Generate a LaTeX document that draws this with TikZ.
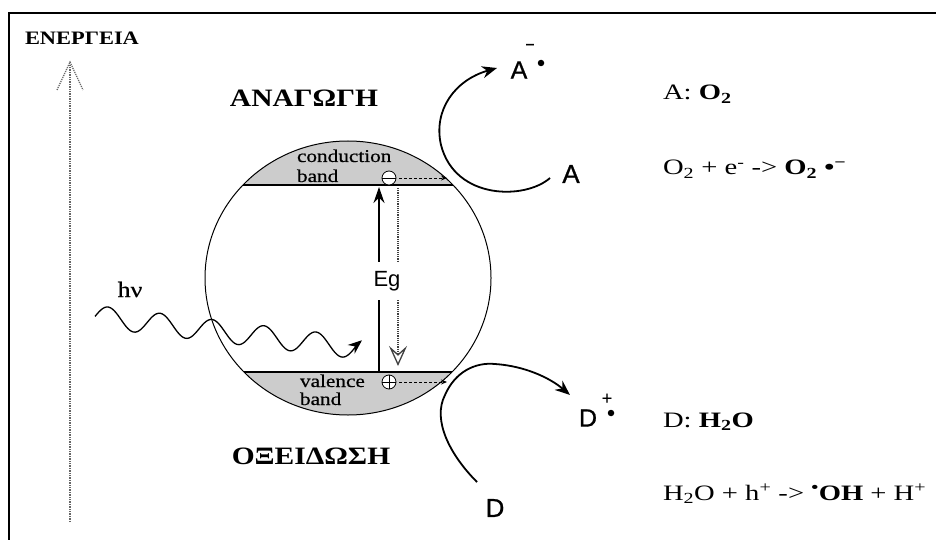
\documentclass[tikz,border=0pt]{standalone}
\usepackage{fontspec}
\setmainfont{Liberation Serif}
\newfontfamily\rtext[FakeStretch=1.3]{Liberation Serif}
\newfontfamily\grtext[FakeStretch=1.18]{Liberation Serif}
\newfontfamily\bandtext[FakeStretch=1.18,FakeBold=0.6]{Liberation Serif}
\newfontfamily\lbl[FakeBold=0.8]{Liberation Sans}
\newfontfamily\lbllight{Liberation Sans}
\usetikzlibrary{arrows.meta,shapes.geometric}
\begin{document}
\begin{tikzpicture}[x=1pt,y=-1pt,
  every node/.style={inner sep=0pt, outer sep=0pt},
  greek/.style={font=\grtext\bfseries\fontsize{25}{25}\selectfont, anchor=base},
  eqn/.style={font=\rtext\fontsize{22}{22}\selectfont, anchor=base west},
  bandlbl/.style={font=\bandtext\fontsize{18}{19}\selectfont, anchor=base west},
  species/.style={font=\lbl\fontsize{26}{26}\selectfont},
  speciestop/.style={font=\lbl\fontsize{25}{25}\selectfont},
  flow/.style={line width=1.8pt, -{Stealth[length=15pt,width=12pt]}},
  bandfill/.style={fill=black!20},
  carrier/.style={draw, circle, fill=white, minimum size=14pt, line width=0.8pt},
  radical/.style={circle, fill, minimum size=6.5pt},
  small/.style={densely dashed, line width=0.9pt, -{Stealth[length=6pt,width=5pt]}}
]
\useasboundingbox (0,0) rectangle (936,540);
\fill[white] (0,0) rectangle (936,540);
\draw[line width=1.6pt] (9,13) rectangle (960,570);

% energy axis
\node[font=\grtext\bfseries\fontsize{19}{19}\selectfont, anchor=base west] (en) at (25,45) {ΕΝΕΡΓΕΙΑ};
\coordinate (eb) at (70,522);
\coordinate (et) at (70,64);
\draw[densely dotted, line width=1.4pt, black!60] (eb) -- (et);
\draw[densely dotted, line width=1.2pt, black!60] (57,90) -- (70,62) -- (83,90);

% particle with bands
\begin{scope}
\clip (348,278) ellipse [x radius=143, y radius=137];
\fill[bandfill] (200,130) rectangle (500,185);
\fill[bandfill] (200,372) rectangle (500,420);
\draw[line width=1.2pt] (200,185) -- (500,185);
\draw[line width=1.2pt] (200,372) -- (500,372);
\end{scope}
\node[draw, ellipse, minimum width=286pt, minimum height=274pt, line width=1pt] (part) at (348,278) {};

\node[bandlbl] (cb1) at (297,162) {conduction};
\node[bandlbl] (cb2) at (297,182) {band};
\node[bandlbl] (vb1) at (300,387) {valence};
\node[bandlbl] (vb2) at (300,405) {band};

\node[carrier] (el) at (389,178) {};
\draw[line width=0.8pt] (el.west) -- (el.east);
\node[carrier] (ho) at (389,382) {};
\draw[line width=0.8pt] (ho.west) -- (ho.east) (ho.north) -- (ho.south);
\coordinate (ce) at (447,178);
\coordinate (he) at (447,382);
\draw[small] ([xshift=3pt]el.east) -- (ce);
\draw[small] ([xshift=3pt]ho.east) -- (he);

% band gap arrows
\coordinate (uB) at (379,372);
\coordinate (uT) at (379,187);
\draw[line width=1.4pt, -{Stealth[length=16pt,width=11pt]}] (uB) -- (uT);
\coordinate (dT) at (398,188);
\coordinate (dB) at (398,366);
\draw[densely dotted, line width=1.2pt, black!75, -{Stealth[open,length=20pt,width=18pt,inset=8pt,line width=1.3pt]}] (dT) -- (dB);
\node[fill=white, minimum width=32pt, minimum height=38pt, font=\lbllight\fontsize{22}{22}\selectfont] (eg) at (387,281) {Eg};

% photon
\draw[line width=1.3pt, -{Stealth[length=14pt,width=11pt]}] plot[domain=95:362, samples=140, smooth] (\x, {318+0.12*(\x-108)-11*cos(6.9231*(\x-108))});
\node[font=\bandtext\fontsize{22}{22}\selectfont, anchor=base] (hv) at (130,297) {hν};

% region labels
\node[greek] (red) at (304,107) {ΑΝΑΓΩΓΗ};
\node[greek] (ox) at (311,464) {ΟΞΕΙΔΩΣΗ};

% species
\node[species] (A) at (571,174) {A};
\node[speciestop] (Am) at (519,70) {A};
\node[font=\lbl\fontsize{16}{16}\selectfont] (Amm) at (530,47) {−};
\node[radical] (Adot) at (541,63) {};
\node[species] (D) at (495,508) {D};
\node[speciestop] (Dp) at (588,418) {D};
\node[font=\lbl\fontsize{18}{18}\selectfont] (Dpp) at (607,399) {+};
\node[radical] (Ddot) at (611,413) {};

% reaction curves
\coordinate (r0) at (550,178);
\coordinate (r1) at (441,145);
\coordinate (r2) at (497,68);
\draw[flow] (r0) .. controls (525,200) and (455,200) .. (r1) .. controls (433,110) and (455,80) .. (r2);
\coordinate (o0) at (477,482);
\coordinate (o1) at (445,395);
\coordinate (o2) at (495,364);
\coordinate (o3) at (570,395);
\draw[flow] (o0) .. controls (450,455) and (432,420) .. (o1) .. controls (455,372) and (475,362) .. (o2) .. controls (525,366) and (550,378) .. (o3);

% equations
\node[eqn] (t1) at (663,100) {A: \textbf{O\textsubscript{2}}};
\node[eqn] (t2) at (663,175) {O\textsubscript{2} + e\textsuperscript{-} -> \textbf{O\textsubscript{2}} \textbf{•}\textsuperscript{\textbf{−}}};
\node[eqn] (t3) at (663,427) {D: \textbf{H\textsubscript{2}O}};
\node[eqn] (t4) at (663,500) {H\textsubscript{2}O + h\textsuperscript{+} -> \textbf{\textsuperscript{•}OH} + H\textsuperscript{+}};
\end{tikzpicture}
\end{document}
